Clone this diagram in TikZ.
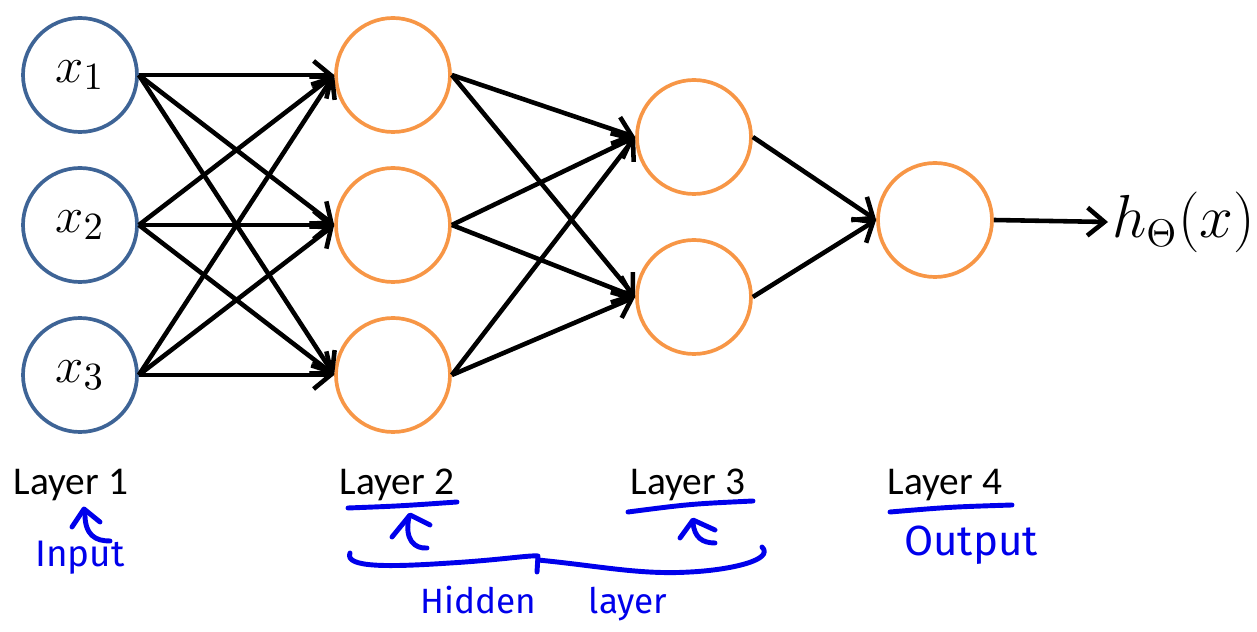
\documentclass[tikz,border=0pt]{standalone}
\usepackage{fontspec}
\newfontfamily\layerfont{Carlito}
\newfontfamily\penfont{Fira Sans}
\usetikzlibrary{positioning, calc, arrows.meta}

\definecolor{inblue}{RGB}{62,100,150}
\definecolor{unitorange}{RGB}{247,150,70}
\definecolor{penblue}{RGB}{0,0,235}

\tikzset{
    neuron/.style={circle, draw, line width=1.05pt, minimum size=11.4mm, inner sep=0pt, font=\fontsize{15}{18}\selectfont},
    innode/.style={neuron, draw=inblue},
    unit/.style={neuron, draw=unitorange},
    wire/.style={->, line width=1.3pt},
    laylabel/.style={font=\layerfont\fontsize{11.2}{13}\selectfont},
    pen/.style={penblue, line width=1.4pt, line cap=round, line join=round},
    pentext/.style={penblue, font=\penfont\fontsize{12}{14}\selectfont},
}

\begin{document}
\begin{tikzpicture}[x=0.1mm, y=-0.1mm, >={Straight Barb[length=1.7mm, width=2.8mm]}]

    \useasboundingbox (0,0) rectangle (1257,632);

    % --- Neurons ---
    % Layer 1: inputs
    \foreach \i/\y in {1/75, 2/225, 3/375} {
        \node[innode] (x\i) at (80,\y) {$x_\i$};
    }
    % Layer 2: hidden
    \foreach \i/\y in {1/75, 2/225, 3/375} {
        \node[unit] (a\i) at (393,\y) {};
    }
    % Layer 3: hidden
    \foreach \i/\y in {1/137, 2/297} {
        \node[unit] (b\i) at (694,\y) {};
    }
    % Layer 4: output
    \node[unit] (out) at (935,220) {};
    \node[anchor=west, inner sep=1pt, font=\fontsize{16}{19}\selectfont] (hyp) at (1108,222) {$h_\Theta(x)$};

    % --- Connections ---
    \foreach \i in {1,2,3} {
        \foreach \j in {1,2,3} {
            \draw[wire] (x\i.east) -- (a\j.west);
        }
    }
    \foreach \i in {1,2,3} {
        \foreach \j in {1,2} {
            \draw[wire] (a\i.east) -- (b\j.west);
        }
    }
    \foreach \j in {1,2} {
        \draw[wire] (b\j.east) -- (out.west);
    }
    \draw[wire] (out.east) -- (hyp.west);

    % --- Layer labels ---
    \node[laylabel] (l1) at (71,485) {Layer 1};
    \node[laylabel] (l2) at (397,485) {Layer 2};
    \node[laylabel] (l3) at (688,485) {Layer 3};
    \node[laylabel] (l4) at (945,485) {Layer 4};

    % --- Handwritten notes ---
    % underlines
    \draw[pen] (348,508) .. controls (400,506) .. (457,502);
    \draw[pen] (628,512) .. controls (690,504) .. (753,501);
    \draw[pen] (890,512) .. controls (950,507) .. (1012,505);

    % little arrows
    \draw[pen] (72,527) -- (84,509) -- (100,522);
    \draw[pen] (85,511) .. controls (84,536) and (96,541) .. (110,541);
    \draw[pen] (392,537) -- (410,515) -- (430,525);
    \draw[pen] (409,517) .. controls (404,540) and (415,549) .. (427,548);
    \draw[pen] (680,538) -- (693,520) -- (715,530);
    \draw[pen] (693,522) .. controls (694,538) and (703,543) .. (715,543);

    % brace under the hidden layers
    \draw[pen] (350,553) .. controls (344,568) and (390,567) .. (450,563)
        .. controls (500,560) and (530,555) .. (538,556) -- (537,572);
    \draw[pen] (538,560) .. controls (600,566) and (640,575) .. (690,572)
        .. controls (730,570) and (775,560) .. (762,547);

    \node[pentext, font=\penfont\fontsize{10.5}{12}\selectfont] (inp) at (80,558) {Input};
    \node[pentext, font=\penfont\fontsize{10}{12}\selectfont] (hid) at (544,604) {Hidden\hspace{1.5em}layer};
    \node[pentext] (outp) at (971,545) {Output};

\end{tikzpicture}
\end{document}
